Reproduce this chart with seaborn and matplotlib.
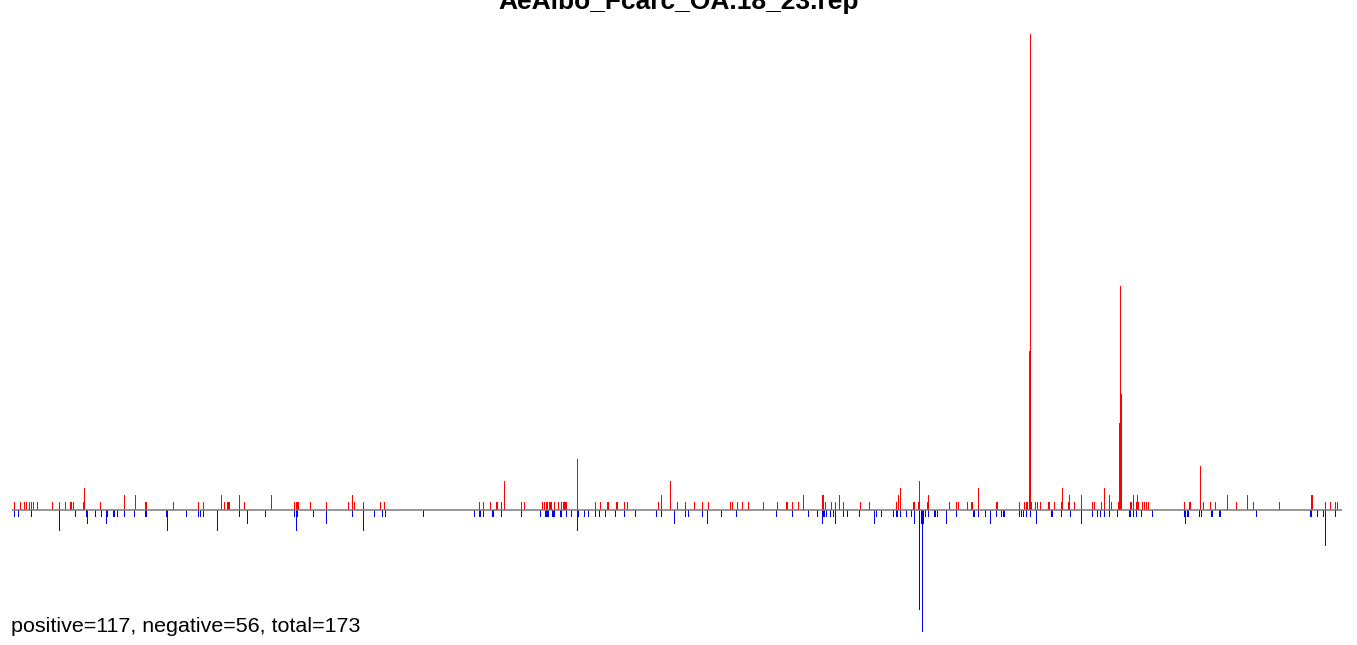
import matplotlib
matplotlib.use("Agg")
import matplotlib.pyplot as plt
import seaborn as sns
import pandas as pd

title = "AeAlbo_Fcarc_OA.18_23.rep"
summary = "positive=117, negative=56, total=173"

pos_x = [14, 20, 24, 26, 29, 31, 33, 37, 52, 59, 65, 70, 71, 73, 83, 84, 100, 124, 135, 145, 146,
         173, 198, 203, 221, 224, 227, 228, 229, 239, 244, 271, 294, 296, 297, 298, 310, 326,
         348, 352, 354, 363, 380, 384, 479, 483, 490, 496, 497, 501, 504, 521, 524, 542, 544, 546,
         547, 549, 550, 551, 554, 558, 561, 563, 564, 565, 566, 577, 595, 600, 607, 608, 616, 617,
         624, 627, 658, 661,
         670, 677, 685, 694, 702, 708, 730, 732, 737, 742, 748, 763, 777, 786, 787, 792, 798, 803,
         822, 823, 825, 831, 835, 839, 843, 860, 869, 896, 898, 900, 913, 914, 918, 919, 927, 928,
         949, 956, 958, 967, 971, 972, 978, 996, 997,
         1019, 1024, 1026, 1027, 1029, 1030, 1031, 1035, 1037, 1040, 1048, 1049, 1054, 1061, 1062,
         1068, 1069, 1074, 1081, 1092, 1094, 1101, 1104, 1109, 1111, 1118, 1119, 1120, 1121, 1130,
         1131, 1133, 1136, 1137, 1138, 1142, 1144, 1146, 1148, 1184, 1189, 1190, 1200, 1203, 1210,
         1215, 1227, 1236, 1247, 1253, 1279, 1311, 1312, 1325, 1330, 1335, 1337]
pos_v = [1, 1, 1, 1, 1, 1, 1, 1, 1, 1, 1, 1, 1, 1, 1, 3, 1, 2, 2, 1, 1,
         1, 1, 1, 2, 1, 1, 1, 1, 2, 1, 2, 1, 1, 1, 1, 1, 1,
         1, 2, 1, 1, 1, 1, 1, 1, 1, 1, 1, 1, 4, 1, 1, 1, 1, 1,
         1, 1, 1, 1, 1, 1, 1, 1, 1, 1, 1, 7, 1, 1, 1, 1, 1, 1,
         1, 1, 1, 2,
         4, 1, 1, 1, 1, 1, 1, 1, 1, 1, 1, 1, 1, 1, 1, 1, 1, 2,
         2, 2, 1, 1, 1, 2, 1, 1, 1, 1, 2, 3, 1, 1, 1, 4, 1, 2,
         1, 1, 1, 1, 1, 1, 3, 1, 1,
         1, 1, 1, 1, 22, 66, 1, 1, 1, 1, 1, 1, 1, 1, 3,
         1, 2, 1, 2, 1, 1, 1, 3, 2, 1, 1, 12, 31, 16, 1,
         1, 2, 1, 2, 1, 1, 1, 1, 1, 1, 1, 1, 6, 1, 1,
         1, 2, 1, 2, 1, 1, 2, 2, 1, 1, 1, 1]

neg_x = [14, 18, 31, 59, 75, 86, 87, 95, 101, 106, 107, 113, 114, 117, 124, 134, 145, 146, 166, 167,
         186, 198, 200, 203, 217, 239, 247, 265, 294, 296, 297, 313, 326,
         352, 363, 374, 382, 385, 423, 474, 479, 480, 483, 492, 493, 501, 521, 540, 545, 546, 547,
         548, 552, 553, 554, 560, 561, 566, 571, 577, 578, 584, 588, 595, 599, 605, 615, 624, 635,
         656, 661,
         674, 685, 688, 702, 707, 721, 736, 776, 792, 808, 817, 822, 823, 824, 826, 830, 833, 835,
         843, 847, 859, 874, 876, 881, 893, 896, 897, 900, 906, 911, 914, 919, 921, 922, 923, 925,
         928, 934, 935, 937, 946, 956, 973, 974, 978, 985, 990, 996,
         1001, 1003, 1004, 1019, 1021, 1023, 1026, 1030, 1036, 1051, 1052, 1061, 1070, 1081, 1092,
         1097, 1100, 1104, 1109, 1117, 1129, 1130, 1133, 1136, 1141, 1152, 1184, 1185, 1187, 1188,
         1199, 1201, 1211, 1212, 1219, 1220, 1256, 1310, 1311, 1317, 1323, 1325, 1335]
neg_v = [1, 1, 1, 3, 1, 1, 2, 1, 1, 2, 1, 1, 1, 1, 1, 1, 1, 1, 1, 3,
         1, 1, 1, 1, 3, 1, 2, 1, 1, 3, 1, 1, 2,
         1, 3, 1, 1, 1, 1, 1, 1, 1, 1, 1, 1, 1, 1, 1, 1, 1, 1,
         1, 1, 1, 1, 1, 1, 1, 1, 3, 1, 1, 1, 1, 1, 1, 1, 1, 1,
         1, 1,
         2, 1, 1, 1, 2, 1, 1, 1, 1, 1, 1, 2, 1, 1, 1, 1, 1, 2,
         1, 1, 1, 2, 1, 1, 1, 1, 1, 1, 1, 1, 2, 14, 2, 17, 2, 1,
         1, 1, 1, 1, 2, 1, 1, 1, 1, 1, 2, 1,
         1, 1, 1, 1, 1, 1, 1, 1, 2, 1, 1, 1, 1, 2, 1,
         1, 1, 1, 1, 1, 1, 1, 1, 1, 1, 1, 1, 2, 1, 1,
         1, 1, 1, 1, 1, 1, 1, 1, 1, 1, 1, 5, 1]

pos_df = pd.DataFrame({"position": pos_x, "count": pos_v})
neg_df = pd.DataFrame({"position": neg_x, "count": [-v for v in neg_v]})

sns.set_style("white")
plt.rcParams["font.family"] = ["Liberation Sans", "DejaVu Sans"]
plt.rcParams["text.color"] = "black"

W, H = 1357, 645
fig = plt.figure(figsize=(W / 100, H / 100), dpi=100)
ax = fig.add_axes([0, 0, 1, 1])

sns.barplot(data=pos_df, x="position", y="count", native_scale=True, orient="x",
            width=1.0, color="#ff0000", saturation=1, linewidth=0, errorbar=None, ax=ax)
sns.barplot(data=neg_df, x="position", y="count", native_scale=True, orient="x",
            width=1.0, color="#0000ff", saturation=1, linewidth=0, errorbar=None, ax=ax)

base_px = 509.5
unit_px = 7.2
ax.set_xlim(-0.5, W - 0.5)
ax.set_ylim(-(H - base_px) / unit_px, base_px / unit_px)
ax.hlines(0, 11, 1341, color="#7a7a7a", linewidth=1.1, zorder=5)
ax.set_axis_off()

fig.text(0.5, 1 - 9 / H, title, ha="center", va="baseline",
         fontsize=19, fontweight="bold", color="black")
fig.text(11 / W, 1 - 632 / H, summary, ha="left", va="baseline",
         fontsize=15.45, color="black")

fig.savefig("out.png", dpi=100)
